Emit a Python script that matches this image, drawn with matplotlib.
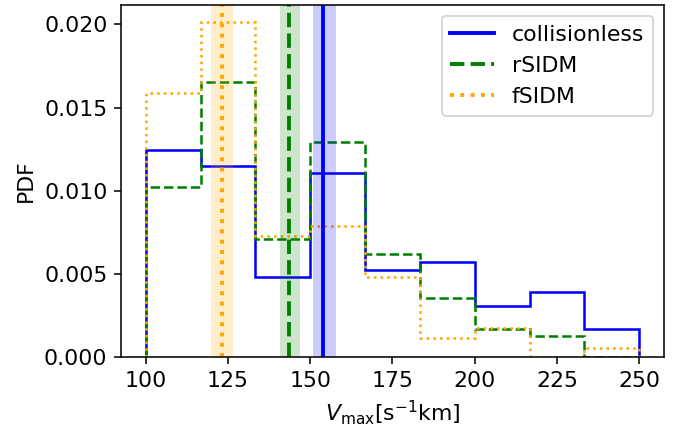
import numpy as np
import matplotlib
matplotlib.use("Agg")
import matplotlib.pyplot as plt

plt.rcParams['font.size'] = 11.3

# bin edges in Vmax
edges = np.linspace(100, 250, 10)

# PDF values
pdf_cdm = [0.01245, 0.0115, 0.00482, 0.01106, 0.00526, 0.0057, 0.00304, 0.00389, 0.00167]
pdf_rsidm = [0.01025, 0.01656, 0.00709, 0.01295, 0.00618, 0.00352, 0.00169, 0.00127, 0.0]
pdf_fsidm = [0.01589, 0.02016, 0.00727, 0.0079, 0.00482, 0.00113, 0.00173, 0.0, 0.00053]

# medians and their bands
med = [154.0, 143.7, 123.2]
lo = [150.7, 140.7, 120.0]
hi = [157.9, 146.8, 126.4]

labels = ['collisionless', 'rSIDM', 'fSIDM']
cols = ['blue', 'green', 'orange']
styles = ['-', '--', ':']

fig = plt.figure(figsize=(682/140, 430/140), dpi=140)
ax = fig.add_axes([0.1774, 0.1698, 0.7962, 0.8186])

for vals, c, ls in zip([pdf_cdm, pdf_rsidm, pdf_fsidm], cols, styles):
    ax.stairs(vals, edges, color=c, linestyle=ls, lw=1.3)

for m, a, b, c, ls, lab in zip(med, lo, hi, cols, styles, labels):
    ax.axvline(m, color=c, linestyle=ls, lw=2, label=lab)
    ax.axvspan(a, b, color=c, alpha=0.2, lw=0)

ax.set_xlim(92.5, 257.5)
ax.set_ylim(0, 0.02117)
ax.set_xticks([100, 125, 150, 175, 200, 225, 250])
ax.set_yticks([0, 0.005, 0.010, 0.015, 0.020])
ax.set_xlabel(r'$V_{\rm max}[{\rm s}^{-1}{\rm km}]$')
ax.set_ylabel('PDF')
ax.legend(loc='upper right')

fig.savefig('out.png', dpi=140)
